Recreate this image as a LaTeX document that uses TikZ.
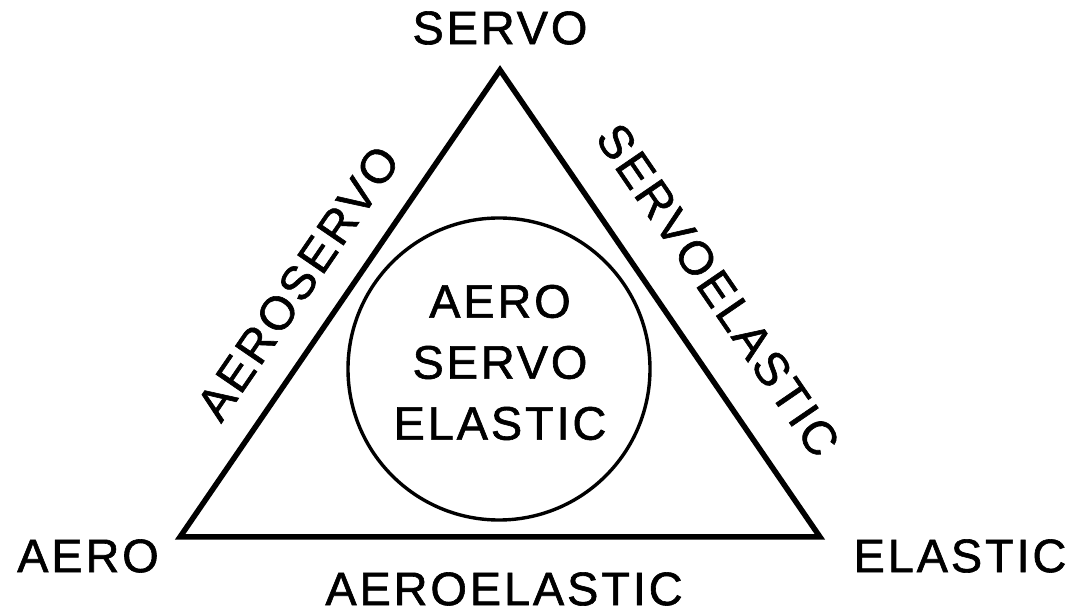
\documentclass[tikz,border=0pt]{standalone}
\usepackage{fontspec}
\setmainfont{Liberation Sans}[LetterSpace=6, FakeBold=1.3]
\begin{document}
\begin{tikzpicture}[x=1pt,y=1pt,
  lbl/.style={inner sep=0pt, font=\fontsize{47}{61}\selectfont},
  tri/.style={line width=5.5pt, line join=miter},
  ring/.style={line width=3.4pt}]
\useasboundingbox (0,0) rectangle (1082,613);
\coordinate (A) at (180,76);
\coordinate (E) at (820,76);
\coordinate (S) at (500,543);
\draw[tri] (A) -- (S) -- (E) -- cycle;
\node[ring, draw, circle, minimum size=302pt, inner sep=0pt] (core) at (499,244) {};
\node[lbl, align=center] (coretext) at (500,250.5) {AERO\\SERVO\\ELASTIC};
\node[lbl] (servo) at (500,585) {SERVO};
\node[lbl] (aero) at (88,57) {AERO};
\node[lbl] (elastic) at (960,57) {ELASTIC};
\node[lbl] (aeroelastic) at (504,24) {AEROELASTIC};
\node[lbl, rotate=55.6] (aeroservo) at (298,330) {AEROSERVO};
\node[lbl, rotate=-55.6] (servoelastic) at (718,323) {SERVOELASTIC};
\end{tikzpicture}
\end{document}
